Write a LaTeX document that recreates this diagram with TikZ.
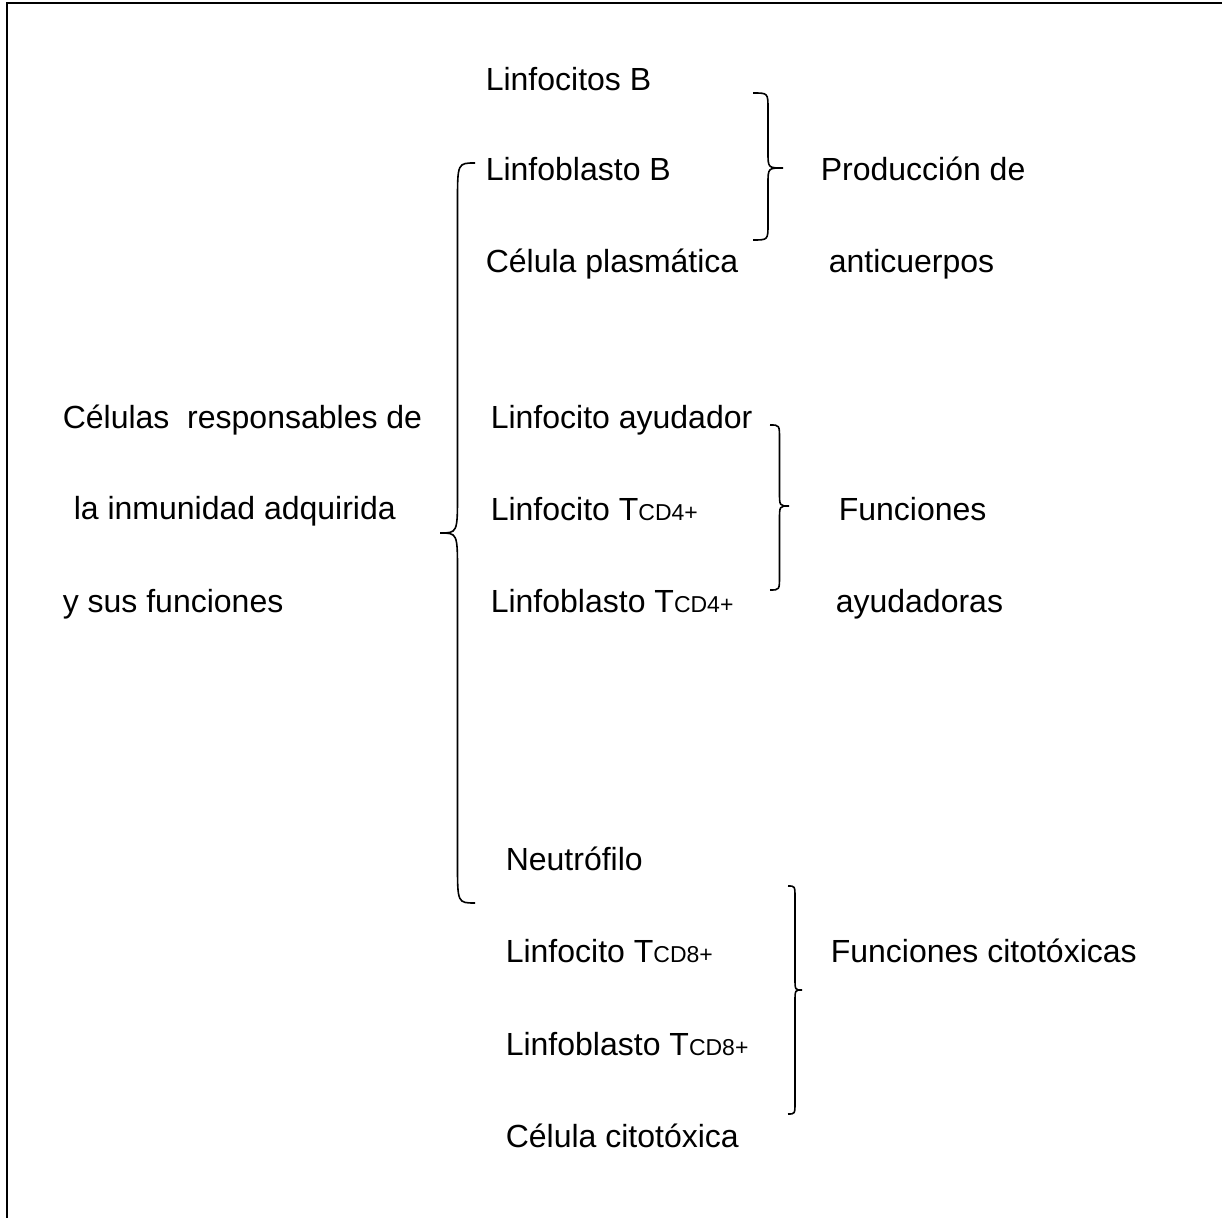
\documentclass[tikz,border=0pt]{standalone}
\usepackage{fontspec}
\setmainfont{Liberation Sans}
\usepackage{tikz}
\newcommand{\cdsub}[1]{{\fontsize{11.5}{12}\selectfont #1}}
% #2 x of ends, #3 x of tip, #4 top, #5 y of tip, #6 bottom, #7 curl
\newcommand{\wbrace}[7][]{
  \begin{scope}[#1]
    \pgfmathsetmacro{\xv}{(#2+#3)/2}
    \draw (#2,#4) .. controls (\xv,#4) .. (\xv,#4+#7)
      -- (\xv,#5-#7) .. controls (\xv,#5) .. (#3,#5)
      .. controls (\xv,#5) .. (\xv,#5+#7)
      -- (\xv,#6-#7) .. controls (\xv,#6) .. (#2,#6);
  \end{scope}
}
\tikzset{
  lbl/.style={anchor=base west,inner sep=0pt,font=\fontsize{16}{19}\selectfont},
}

\begin{document}
\begin{tikzpicture}[x=0.5pt,y=-0.5pt,line width=0.8pt]
    \useasboundingbox (0,0) rectangle (1222,1218);
    \draw[line width=1pt] (1222,3) -- (7,3) -- (7,1218);
    % left column
    \node[lbl] (c1) at (62,429) {Células\ \ responsables de};
    \node[lbl] (c2) at (73,520) {la inmunidad adquirida};
    \node[lbl] (c3) at (62,613) {y sus funciones};
    % B cells
    \node[lbl] (b1) at (485,91) {Linfocitos B};
    \node[lbl] (b2) at (485,181) {Linfoblasto B};
    \node[lbl] (b3) at (485,273) {Célula plasmática};
    \node[lbl] (fb1) at (820,181) {Producción de};
    \node[lbl] (fb2) at (828,273) {anticuerpos};
    % CD4 cells
    \node[lbl] (h1) at (490,429) {Linfocito ayudador};
    \node[lbl] (h2) at (490,521) {Linfocito T\cdsub{CD4+}};
    \node[lbl] (h3) at (490,613) {Linfoblasto T\cdsub{CD4+}};
    \node[lbl] (fh1) at (838,521) {Funciones};
    \node[lbl] (fh2) at (835,613) {ayudadoras};
    % CD8 cells
    \node[lbl] (t1) at (505,871) {Neutrófilo};
    \node[lbl] (t2) at (505,963) {Linfocito T\cdsub{CD8+}};
    \node[lbl] (t3) at (505,1056) {Linfoblasto T\cdsub{CD8+}};
    \node[lbl] (t4) at (505,1147) {Célula citotóxica};
    \node[lbl] (ft1) at (830,963) {Funciones citotóxicas};
    % braces
    \wbrace{475}{440}{163}{533}{903}{40}
    \wbrace{753}{783}{93}{168}{240}{16}
    \wbrace{770}{789}{425}{506}{590}{14}
    \wbrace{788}{802}{886}{990}{1114}{12}
\end{tikzpicture}
\end{document}
